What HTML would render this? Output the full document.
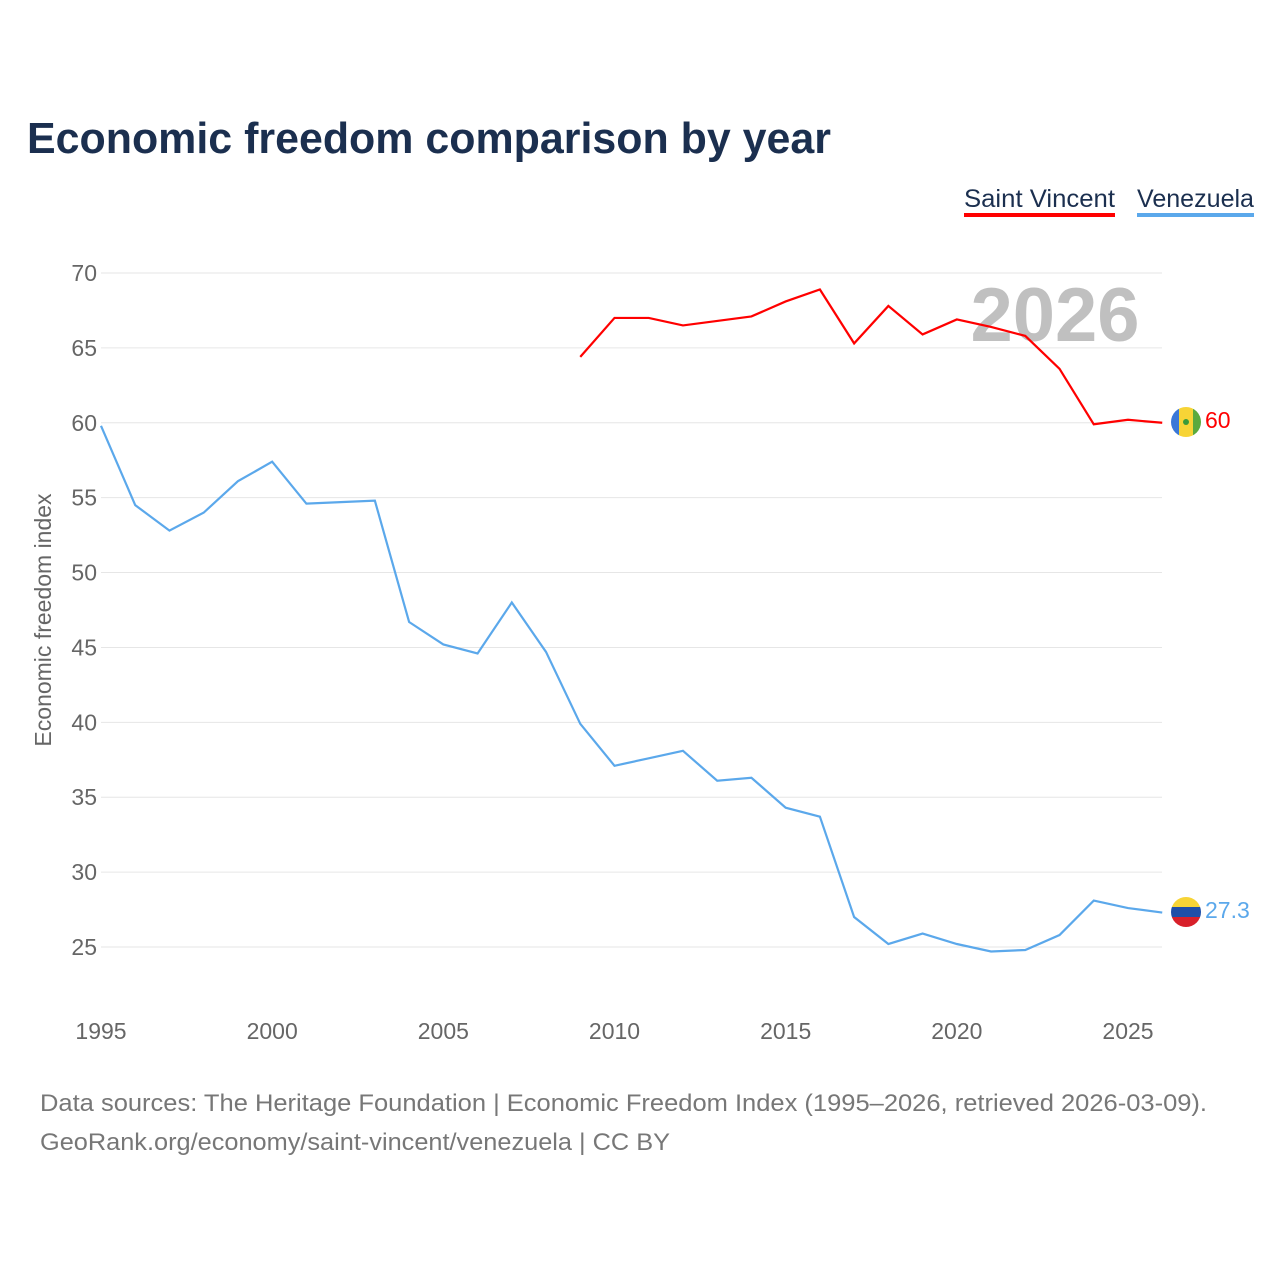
<!DOCTYPE html>
<html><head><meta charset="utf-8">
<style>
body{margin:0;background:#fff;font-family:"Liberation Sans",sans-serif;}
svg text{font-family:"Liberation Sans",sans-serif;}
</style></head>
<body>
<svg id="chart" width="1280" height="1280" viewBox="0 0 1280 1280">
<text x="27" y="153" font-size="44" font-weight="bold" fill="#1b2f4f" textLength="804" lengthAdjust="spacingAndGlyphs">Economic freedom comparison by year</text>
<g>
<text x="964" y="207" font-size="25" fill="#1b2f4f" textLength="151" lengthAdjust="spacingAndGlyphs">Saint Vincent</text>
<rect x="964" y="213" width="151" height="4" fill="#ff0000"/>
<text x="1137" y="207" font-size="25" fill="#1b2f4f" textLength="117" lengthAdjust="spacingAndGlyphs">Venezuela</text>
<rect x="1137" y="213" width="117" height="4" fill="#5ba8eb"/>
</g>
<g id="grid"></g>
<g id="yticks"></g>
<g id="xticks"></g>
<text x="1055" y="341" font-size="76" font-weight="bold" fill="#c0c0c0" text-anchor="middle">2026</text>
<text transform="translate(51,620) rotate(-90)" font-size="23" fill="#666" text-anchor="middle">Economic freedom index</text>
<g id="series"></g>
<g>
<clipPath id="c1"><circle cx="1186" cy="422" r="15"/></clipPath>
<g clip-path="url(#c1)"><rect x="1171" y="407" width="8" height="30" fill="#3a78d8"/><rect x="1179" y="407" width="14" height="30" fill="#f7d436"/><rect x="1193" y="407" width="8" height="30" fill="#5aaa3e"/><circle cx="1186" cy="422" r="3" fill="#3a9a3a"/></g>
</g>
<text x="1205" y="428" font-size="23" fill="#ff0000">60</text>
<g>
<clipPath id="c2"><circle cx="1186" cy="912" r="15"/></clipPath>
<g clip-path="url(#c2)"><rect x="1171" y="897" width="30" height="10" fill="#f7d436"/><rect x="1171" y="907" width="30" height="10" fill="#1f4fa8"/><rect x="1171" y="917" width="30" height="10" fill="#d8202a"/></g>
</g>
<text x="1205" y="918" font-size="23" fill="#5ba8eb">27.3</text>
<text x="40" y="1111" font-size="24" fill="#777" textLength="1167" lengthAdjust="spacingAndGlyphs">Data sources: The Heritage Foundation | Economic Freedom Index (1995–2026, retrieved 2026-03-09).</text>
<text x="40" y="1150" font-size="24" fill="#777" textLength="630" lengthAdjust="spacingAndGlyphs">GeoRank.org/economy/saint-vincent/venezuela | CC BY</text>
</svg>
<script>
const yTicks=[25,30,35,40,45,50,55,60,65,70];
const xTicks=[1995,2000,2005,2010,2015,2020,2025];
const venYears=[1995,1996,1997,1998,1999,2000,2001,2002,2003,2004,2005,2006,2007,2008,2009,2010,2011,2012,2013,2014,2015,2016,2017,2018,2019,2020,2021,2022,2023,2024,2025,2026];
const venValues=[59.8,54.5,52.8,54.0,56.1,57.4,54.6,54.7,54.8,46.7,45.2,44.6,48.0,44.7,39.9,37.1,37.6,38.1,36.1,36.3,34.3,33.7,27.0,25.2,25.9,25.2,24.7,24.8,25.8,28.1,27.6,27.3];
const svcYears=[2009,2010,2011,2012,2013,2014,2015,2016,2017,2018,2019,2020,2021,2022,2023,2024,2025,2026];
const svcValues=[64.4,67.0,67.0,66.5,66.8,67.1,68.1,68.9,65.3,67.8,65.9,66.9,66.4,65.8,63.6,59.9,60.2,60.0];
const NS='http://www.w3.org/2000/svg';
function xS(v){return 101+(v-1995)*(1027/30);}
function yS(v){return 273+(70-v)*(674/45);}
const grid=document.getElementById('grid'),yt=document.getElementById('yticks'),xt=document.getElementById('xticks'),ser=document.getElementById('series');
yTicks.forEach(t=>{
  const l=document.createElementNS(NS,'line');
  l.setAttribute('x1',101);l.setAttribute('x2',1162);l.setAttribute('y1',yS(t));l.setAttribute('y2',yS(t));
  l.setAttribute('stroke','#e6e6e6');l.setAttribute('stroke-width','1');
  
  
  grid.appendChild(l);
  const tx=document.createElementNS(NS,'text');
  tx.setAttribute('x',97);tx.setAttribute('y',yS(t)+8);tx.setAttribute('text-anchor','end');
  tx.setAttribute('font-size','23');tx.setAttribute('fill','#666');tx.textContent=t;
  
  
  yt.appendChild(tx);
});
xTicks.forEach(t=>{
  const tx=document.createElementNS(NS,'text');
  tx.setAttribute('x',xS(t));tx.setAttribute('y',1039);tx.setAttribute('text-anchor','middle');
  tx.setAttribute('font-size','23');tx.setAttribute('fill','#666');tx.textContent=t;
  
  
  xt.appendChild(tx);
});
function line(xs,vs,color,name){
  const p=document.createElementNS(NS,'polyline');
  p.setAttribute('points',xs.map((x,i)=>xS(x)+','+yS(vs[i])).join(' '));
  p.setAttribute('fill','none');p.setAttribute('stroke',color);p.setAttribute('stroke-width','2.2');
  
  
  ser.appendChild(p);
}
line(venYears,venValues,'#5ba8eb','line-venezuela');
line(svcYears,svcValues,'#ff0000','line-saint-vincent');
</script>
</body></html>
